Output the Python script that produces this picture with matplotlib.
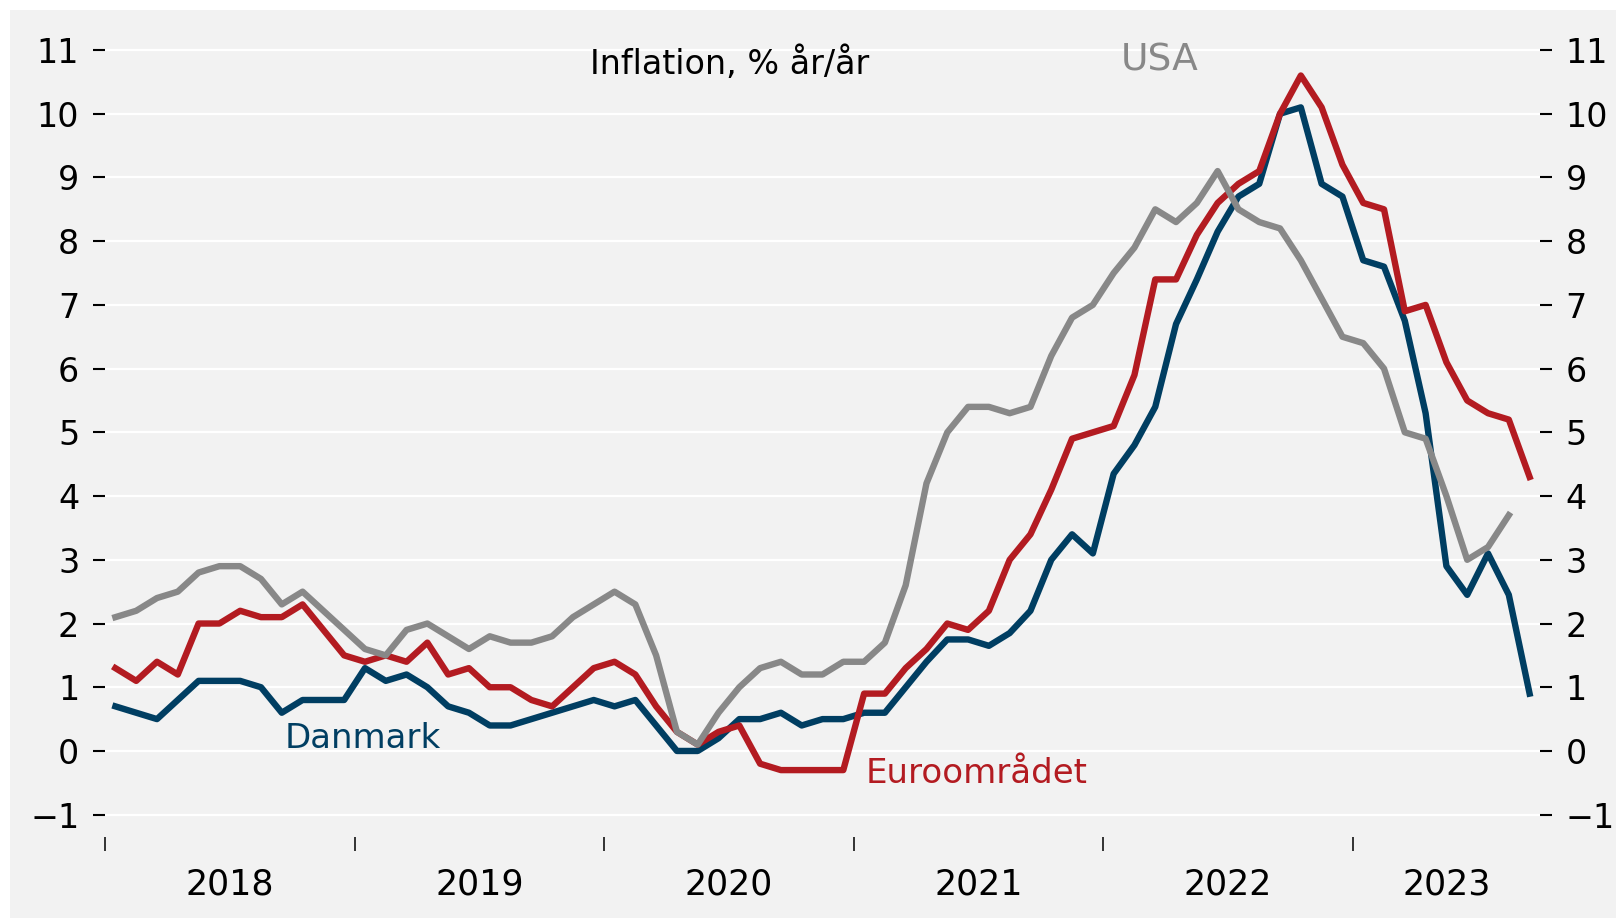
import numpy as np
import matplotlib
matplotlib.use('Agg')
import matplotlib.pyplot as plt
from matplotlib.patches import Rectangle

# monthly inflation, % y/y, Jan 2018 onwards
danmark = [0.7, 0.6, 0.5, 0.8, 1.1, 1.1, 1.1, 1.0, 0.6, 0.8, 0.8, 0.8,
           1.3, 1.1, 1.2, 1.0, 0.7, 0.6, 0.4, 0.4, 0.5, 0.6, 0.7, 0.8,
           0.7, 0.8, 0.4, 0.0, 0.0, 0.2, 0.5, 0.5, 0.6, 0.4, 0.5, 0.5,
           0.6, 0.6, 1.0, 1.4, 1.75, 1.75, 1.65, 1.85, 2.2, 3.0, 3.4, 3.1,
           4.35, 4.8, 5.4, 6.7, 7.4, 8.15, 8.7, 8.9, 10.0, 10.1, 8.9, 8.7,
           7.7, 7.6, 6.75, 5.3, 2.9, 2.45, 3.1, 2.45, 0.9]
euro = [1.3, 1.1, 1.4, 1.2, 2.0, 2.0, 2.2, 2.1, 2.1, 2.3, 1.9, 1.5,
        1.4, 1.5, 1.4, 1.7, 1.2, 1.3, 1.0, 1.0, 0.8, 0.7, 1.0, 1.3,
        1.4, 1.2, 0.7, 0.3, 0.1, 0.3, 0.4, -0.2, -0.3, -0.3, -0.3, -0.3,
        0.9, 0.9, 1.3, 1.6, 2.0, 1.9, 2.2, 3.0, 3.4, 4.1, 4.9, 5.0,
        5.1, 5.9, 7.4, 7.4, 8.1, 8.6, 8.9, 9.1, 10.0, 10.6, 10.1, 9.2,
        8.6, 8.5, 6.9, 7.0, 6.1, 5.5, 5.3, 5.2, 4.3]
usa = [2.1, 2.2, 2.4, 2.5, 2.8, 2.9, 2.9, 2.7, 2.3, 2.5, 2.2, 1.9,
       1.6, 1.5, 1.9, 2.0, 1.8, 1.6, 1.8, 1.7, 1.7, 1.8, 2.1, 2.3,
       2.5, 2.3, 1.5, 0.3, 0.1, 0.6, 1.0, 1.3, 1.4, 1.2, 1.2, 1.4,
       1.4, 1.7, 2.6, 4.2, 5.0, 5.4, 5.4, 5.3, 5.4, 6.2, 6.8, 7.0,
       7.5, 7.9, 8.5, 8.3, 8.6, 9.1, 8.5, 8.3, 8.2, 7.7, 7.1, 6.5,
       6.4, 6.0, 5.0, 4.9, 4.0, 3.0, 3.2, 3.7]

years = ['2018', '2019', '2020', '2021', '2022', '2023']
year_starts = [0, 12, 24, 36, 48, 60]          # months since Jan 2018
year_label_pos = [6, 18, 30, 42, 54, 64.5]     # 2023 centred on data months
y_ticks = list(range(-1, 12))

BLUE = '#003e62'
RED = '#b31b21'
GREY = '#888888'
BG = '#f2f2f2'

W, H = 1616, 918
fig = plt.figure(figsize=(W / 100, H / 100), dpi=100, facecolor='white')
fig.patches.append(Rectangle((10 / W, 0), 1, (H - 10) / H, transform=fig.transFigure,
                             facecolor=BG, edgecolor='none', zorder=-10))

ax = fig.add_axes([105 / W, 81 / H, (1540 - 105) / W, (890.3 - 81) / H])
ax.set_facecolor(BG)
for s in ax.spines.values():
    s.set_visible(False)

# month centres
x_dk = np.arange(len(danmark)) + 0.5
x_ez = np.arange(len(euro)) + 0.5
x_us = np.arange(len(usa)) + 0.5

lw = 4.6
ax.plot(x_dk, danmark, color=BLUE, lw=lw, zorder=3)
ax.plot(x_ez, euro, color=RED, lw=lw, zorder=4)
ax.plot(x_us, usa, color=GREY, lw=lw, zorder=5)

ax.set_xlim(0, 69)
ax.set_ylim(-1.35, 11.35)

# y axis, both sides
ax.set_yticks(y_ticks)
ax.set_yticklabels([str(v).replace('-', '\u2212') for v in y_ticks])
ax.yaxis.grid(True, color='white', lw=1.6, zorder=1)
ax.set_axisbelow(True)
ax.tick_params(axis='y', which='major', left=True, right=True, labelleft=True, labelright=True,
               length=8.5, width=1.5, color='black', labelsize=24, pad=10)

# x axis: ticks at year starts, labels mid-year
ax.set_xticks(year_starts)
ax.set_xticklabels([''] * len(year_starts))
ax.set_xticks(year_label_pos, minor=True)
ax.set_xticklabels(years, minor=True)
ax.tick_params(axis='x', which='major', length=10, width=1.1, color='black', direction='out')
ax.tick_params(axis='x', which='minor', length=0, labelsize=25, pad=22)

# labels
ax.text(30.05, 10.78, 'Inflation, % år/år', fontsize=24, color='black',
        ha='center', va='center')
ax.text(50.7, 10.84, 'USA', fontsize=27, color=GREY, ha='center', va='center')
ax.text(12.4, 0.2, 'Danmark', fontsize=24.5, color=BLUE, ha='center', va='center')
ax.text(41.9, -0.35, 'Euroområdet', fontsize=24.5, color=RED, ha='center', va='center')

fig.savefig('out.png', dpi=100, facecolor=fig.get_facecolor())
